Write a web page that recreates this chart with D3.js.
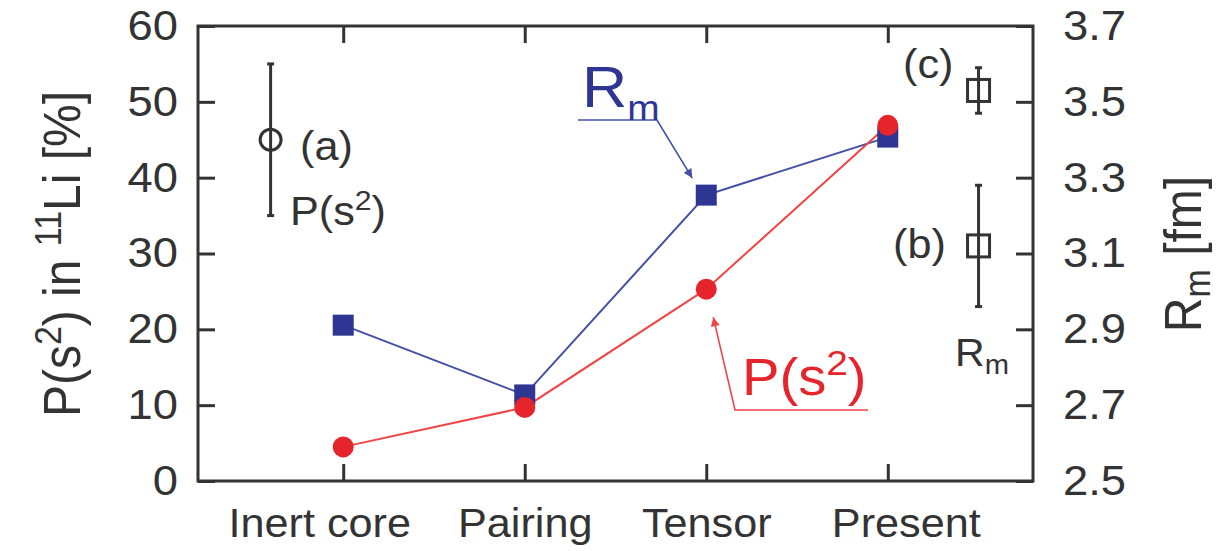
<!DOCTYPE html>
<html>
<head>
<meta charset="utf-8">
<script src="https://cdn.jsdelivr.net/npm/d3@7"></script>
<style>
  html, body { margin: 0; padding: 0; background: #fff; }
  svg { display: block; }
  text { font-family: "Liberation Sans", Arial, Helvetica, sans-serif; fill: #333; }
</style>
</head>
<body>
<div id="root"></div>
<script>
// chart values
const categories = ['Inert core', 'Pairing', 'Tensor', 'Present'];
const probValues = [4.5, 9.7, 25.3, 46.9];          // P(s^2) in %, left axis
const radiusValues = [2.911, 2.727, 3.254, 3.407];  // Rm in fm, right axis
const probTicks = [0, 10, 20, 30, 40, 50, 60];
const radiusTicks = [2.5, 2.7, 2.9, 3.1, 3.3, 3.5, 3.7];

// experimental points: (a) is P(s^2), (b) and (c) are Rm
const expLabels = ['(a)', '(b)', '(c)'];
const expPos = [-0.4, 3.5, 3.5];
const expValues = [45, 3.12, 3.53];
const expErrors = [10, 0.16, 0.06];
const expAxis = ['left', 'right', 'right'];

const W = 1228, H = 551;
const frame = { left: 198, right: 1033, top: 26, bottom: 481 };
const sx = 1.08; // the source figure is a little wider than tall
const ink = '#333';
const blue = '#2e3592', blueLine = '#4450a6';
const red = '#e5252b', redLine = '#ef4545';

const svg = d3.select('#root').append('svg')
  .attr('width', W).attr('height', H);

const x = d3.scaleLinear().domain([-0.8, 3.8]).range([frame.left, frame.right]);
const yL = d3.scaleLinear().domain([0, 60]).range([frame.bottom, frame.top]);
const yR = d3.scaleLinear().domain([2.5, 3.7]).range([frame.bottom, frame.top]);

// text with optional sub/superscripts, stretched a bit horizontally
function label(x0, y0, parts, opts = {}) {
  const g = svg.append('g')
    .attr('transform', `translate(${x0},${y0}) scale(${sx},1)` + (opts.rotate ? ` rotate(${opts.rotate})` : ''));
  const t = g.append('text')
    .attr('text-anchor', opts.anchor || 'start')
    .style('fill', opts.color || ink);
  let shift = 0;
  parts.forEach(p => {
    const s = p.shift || 0;
    t.append('tspan')
      .attr('dy', -(s - shift))
      .attr('font-size', p.size)
      .text(p.t);
    shift = s;
  });
  return g;
}

function styleAxis(g) {
  g.select('.domain').remove();
  g.selectAll('.tick line').attr('stroke', ink).attr('stroke-width', 3);
  g.selectAll('.tick text')
    .attr('font-size', 42)
    .style('fill', ink)
    .attr('transform', function () {
      const tx = +d3.select(this).attr('x') || 0;
      return `translate(${tx * (1 - sx)},0) scale(${sx},1)`;
    });
}

// axes with inward ticks
const tick = 17;
svg.append('g')
  .attr('transform', `translate(${frame.left},0)`)
  .call(d3.axisLeft(yL).tickValues(probTicks).tickSizeInner(-tick).tickSizeOuter(0).tickPadding(20))
  .call(styleAxis);

svg.append('g')
  .attr('transform', `translate(${frame.right},0)`)
  .call(d3.axisRight(yR).tickValues(radiusTicks).tickFormat(d3.format('.1f'))
    .tickSizeInner(-tick).tickSizeOuter(0).tickPadding(30))
  .call(styleAxis);

// the outer category labels sit a little wider apart in the figure
const catIndex = d3.range(categories.length);
const catNudge = i => (i === 0 ? -24 : i === categories.length - 1 ? 18 : 0);
svg.append('g')
  .attr('transform', `translate(0,${frame.bottom})`)
  .call(d3.axisBottom(x).tickValues(catIndex).tickFormat(i => categories[i])
    .tickSizeInner(-tick).tickSizeOuter(0).tickPadding(28))
  .call(styleAxis)
  .selectAll('.tick text')
  .attr('font-size', 40)
  .attr('x', catNudge)
  .attr('transform', i => `translate(${catNudge(i) * (1 - sx)},0) scale(${sx},1)`);

svg.append('g')
  .attr('transform', `translate(0,${frame.top})`)
  .call(d3.axisTop(x).tickValues(catIndex).tickFormat('')
    .tickSizeInner(-tick).tickSizeOuter(0))
  .call(styleAxis);

svg.append('rect')
  .attr('x', frame.left).attr('y', frame.top)
  .attr('width', frame.right - frame.left).attr('height', frame.bottom - frame.top)
  .attr('fill', 'none').attr('stroke', ink).attr('stroke-width', 3);

// axis titles
label(80, 254, [
  { t: 'P(s', size: 48 }, { t: '2', size: 34, shift: 18 }, { t: ') in ', size: 48 },
  { t: '11', size: 34, shift: 18 }, { t: 'Li [%]', size: 48 }
], { anchor: 'middle', rotate: -90 });

label(1201, 254, [
  { t: 'R', size: 48 }, { t: 'm', size: 34, shift: -8 }, { t: ' [fm]', size: 48 }
], { anchor: 'middle', rotate: -90 });

// model lines and markers
const lineR = d3.line().x((d, i) => x(i)).y(d => yR(d));
const lineP = d3.line().x((d, i) => x(i)).y(d => yL(d));

svg.append('path').datum(radiusValues)
  .attr('d', lineR).attr('fill', 'none').attr('stroke', blueLine).attr('stroke-width', 2);
svg.append('path').datum(probValues)
  .attr('d', lineP).attr('fill', 'none').attr('stroke', redLine).attr('stroke-width', 2);

const sq = 21;
svg.selectAll('rect.rm').data(radiusValues).join('rect')
  .attr('class', 'rm')
  .attr('x', (d, i) => x(i) - sq / 2).attr('y', d => yR(d) - sq / 2)
  .attr('width', sq).attr('height', sq).attr('fill', blue);

svg.selectAll('circle.ps').data(probValues).join('circle')
  .attr('class', 'ps')
  .attr('cx', (d, i) => x(i)).attr('cy', d => yL(d))
  .attr('r', 10.5).attr('fill', red);

// experimental error bars
expValues.forEach((v, i) => {
  const yS = expAxis[i] === 'left' ? yL : yR;
  const cx = x(expPos[i]);
  const y1 = yS(v + expErrors[i]), y2 = yS(v - expErrors[i]);
  svg.append('line').attr('x1', cx).attr('x2', cx).attr('y1', y1).attr('y2', y2)
    .attr('stroke', ink).attr('stroke-width', 3);
  [y1, y2].forEach(yy => svg.append('line')
    .attr('x1', cx - 3.5).attr('x2', cx + 3.5).attr('y1', yy).attr('y2', yy)
    .attr('stroke', ink).attr('stroke-width', 3));
  if (expAxis[i] === 'left') {
    svg.append('circle').attr('cx', cx).attr('cy', yS(v)).attr('r', 10.5)
      .attr('fill', 'none').attr('stroke', ink).attr('stroke-width', 3);
  } else {
    svg.append('rect').attr('x', cx - 11).attr('y', yS(v) - 11)
      .attr('width', 22).attr('height', 22)
      .attr('fill', 'none').attr('stroke', ink).attr('stroke-width', 3);
  }
});

// annotation texts
label(300, 160, [{ t: expLabels[0], size: 40 }]);
label(290, 225, [{ t: 'P(s', size: 40 }, { t: '2', size: 28, shift: 15 }, { t: ')', size: 40 }]);
label(903, 78, [{ t: expLabels[2], size: 40 }]);
label(893, 258, [{ t: expLabels[1], size: 40 }]);
label(955, 366, [{ t: 'R', size: 38 }, { t: 'm', size: 27, shift: -8 }]);

// callout arrows
const defs = svg.append('defs');
[['arrBlue', blueLine], ['arrRed', redLine]].forEach(([id, c]) => {
  defs.append('marker').attr('id', id)
    .attr('viewBox', '0 0 10 10').attr('refX', 10).attr('refY', 5)
    .attr('markerUnits', 'userSpaceOnUse')
    .attr('markerWidth', 16).attr('markerHeight', 9).attr('orient', 'auto')
    .append('path').attr('d', 'M0,0L10,5L0,10Z').attr('fill', c);
});

const call = d3.line();
// Rm callout near the Tensor square
const tB = [x(2), yR(radiusValues[2])];
svg.append('path')
  .attr('d', call([[578, 120], [657, 120], [tB[0] - 14, tB[1] - 17]]))
  .attr('fill', 'none').attr('stroke', blueLine).attr('stroke-width', 1.6)
  .attr('marker-end', 'url(#arrBlue)');
label(582, 107, [{ t: 'R', size: 58 }, { t: 'm', size: 36, shift: -13 }], { color: blue });

// P(s^2) callout near the Tensor circle
const tR = [x(2), yL(probValues[2])];
svg.append('path')
  .attr('d', call([[868, 410], [735, 410], [tR[0] + 7, tR[1] + 28]]))
  .attr('fill', 'none').attr('stroke', redLine).attr('stroke-width', 1.6)
  .attr('marker-end', 'url(#arrRed)');
label(742, 395, [{ t: 'P(s', size: 52 }, { t: '2', size: 36, shift: 20 }, { t: ')', size: 52 }], { color: red });
</script>
</body>
</html>
